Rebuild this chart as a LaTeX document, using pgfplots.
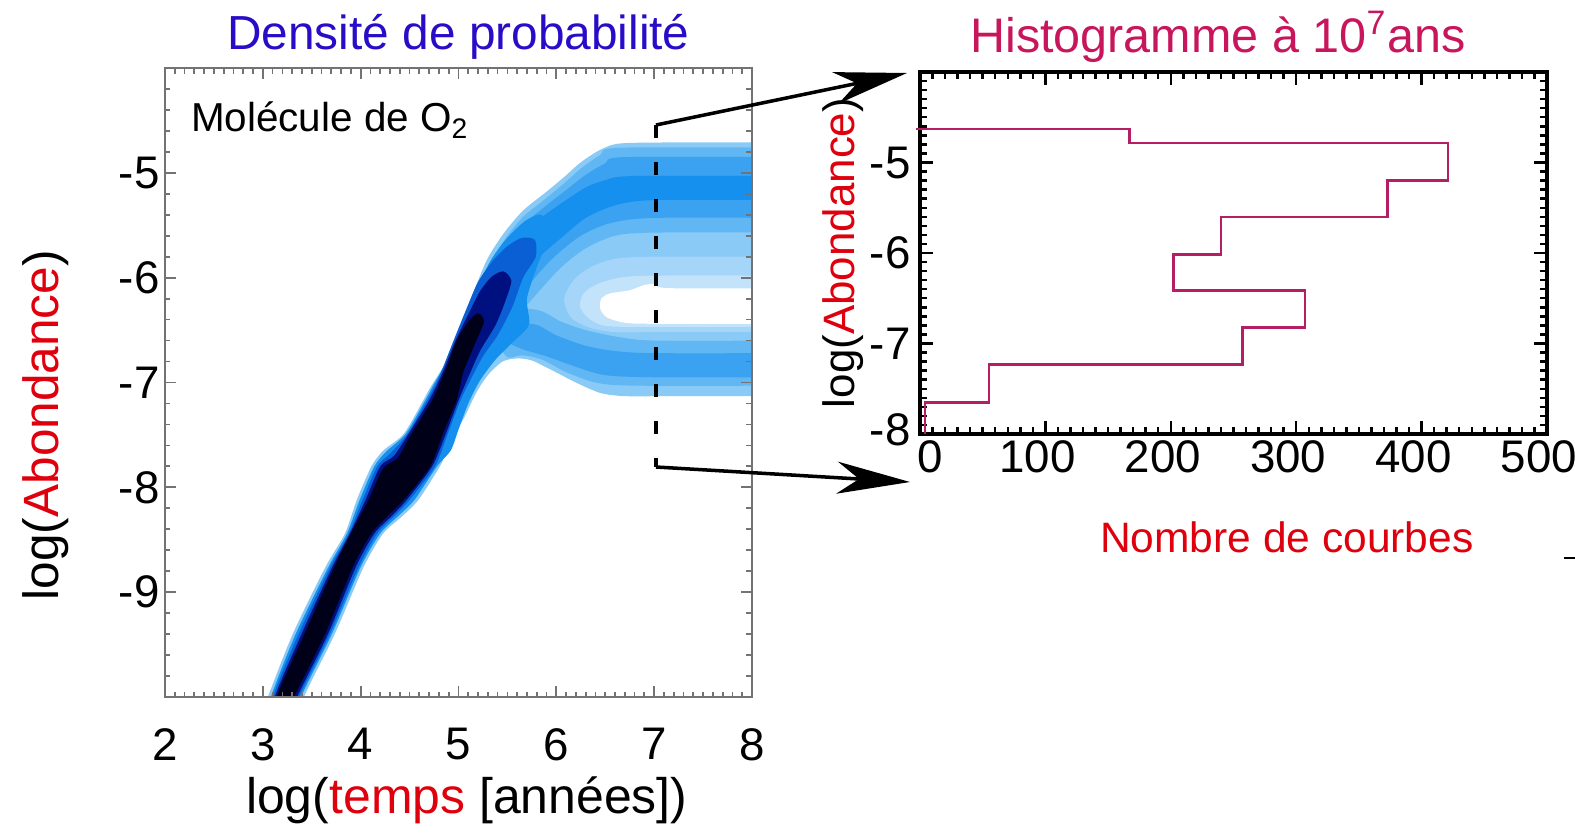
\documentclass[border=0pt]{standalone}
\usepackage{fontspec}
\setmainfont{Liberation Sans}
\usepackage{pgfplots}
\pgfplotsset{compat=1.18}
\usetikzlibrary{arrows.meta}
\definecolor{tblue}{RGB}{40,12,200}
\definecolor{tpink}{RGB}{200,22,92}
\definecolor{lred}{RGB}{222,0,12}
\definecolor{histc}{RGB}{180,30,100}
\definecolor{cA}{RGB}{138,202,246}
\definecolor{cB}{RGB}{96,183,243}
\definecolor{cC}{RGB}{58,162,240}
\definecolor{cD}{RGB}{21,144,238}
\definecolor{cL}{RGB}{165,213,248}
\definecolor{cM}{RGB}{194,227,250}
\definecolor{cE}{RGB}{10,95,212}
\definecolor{cN}{RGB}{0,16,128}
\definecolor{cK}{RGB}{0,0,24}
\pgfplotsset{band/.style={draw=none, smooth, tension=0.45, forget plot}}
\begin{document}
\begin{tikzpicture}
\useasboundingbox (0,0) rectangle (157.5mm,83.6mm);
% ---------------- left: density map ----------------
\begin{axis}[
  at={(16.5mm,13.9mm)}, anchor=south west,
  scale only axis, width=58.7mm, height=62.9mm,
  xmin=2, xmax=8, ymin=-10, ymax=-4,
  xtick={2,...,8}, ytick={-10,...,-4},
  yticklabels={,-9,-8,-7,-6,-5,},
  minor x tick num=9, minor y tick num=4,
  tick align=inside,
  major tick length=1.1mm, minor tick length=0.55mm,
  axis line style={draw=black!55, line width=0.6pt},
  tick style={black!55, line width=0.5pt},
  tick label style={font=\fontsize{13}{15}\selectfont},
  /pgf/number format/assume math mode=true,
  xticklabel style={yshift=-1.9mm},
  yticklabel style={xshift=0.7mm},
  axis on top,
  every axis title shift=0pt,
  title={Densité de probabilité},
  title style={at={(rel axis cs:0.5,1.049)}, anchor=center, text=tblue, font=\fontsize{13.6}{16}\selectfont},
  xlabel={log(\textcolor{lred}{temps} [années])},
  xlabel style={at={(rel axis cs:0.514,-0.164)}, anchor=center, font=\fontsize{14.2}{17}\selectfont},
  ylabel={log(\textcolor{lred}{Abondance})},
  ylabel style={at={(rel axis cs:-0.204,0.432)}, anchor=center, font=\fontsize{14.1}{17}\selectfont},
]
% outer envelope
\addplot[band, fill=cA] coordinates {
 (2.95,-10.3) (3.06,-9.98) (3.31,-9.39) (3.64,-8.76) (3.84,-8.44) (3.96,-8.12) (4.11,-7.80) (4.23,-7.65)
 (4.44,-7.49) (4.64,-7.17) (4.71,-7.05) (4.88,-6.79) (5.02,-6.47) (5.15,-6.15) (5.29,-5.83) (5.46,-5.58)
 (5.66,-5.36) (5.90,-5.18) (6.08,-5.04) (6.25,-4.90) (6.45,-4.78) (6.65,-4.72) (7.2,-4.71) (8.5,-4.71)
 (9.5,-4.71) (9.5,-7.13) (8.5,-7.13) (7.2,-7.13) (6.7,-7.13) (6.45,-7.10) (6.2,-7.00) (5.95,-6.88) (5.75,-6.79) (5.6,-6.77)
 (5.45,-6.80) (5.3,-6.93) (5.18,-7.10) (5.05,-7.35) (4.95,-7.49) (4.88,-7.65) (4.81,-7.80) (4.59,-8.12)
 (4.42,-8.28) (4.23,-8.44) (4.03,-8.76) (3.74,-9.39) (3.43,-9.98) (3.32,-10.3)};
% upper branch
\addplot[band, fill=cB] coordinates {
 (9.5,-4.76) (8.5,-4.76) (6.65,-4.76) (6.45,-4.83) (6.25,-4.96) (6.08,-5.10) (5.9,-5.24) (5.66,-5.42) (5.47,-5.64)
 (5.32,-5.90) (5.30,-6.20) (5.45,-6.35) (5.65,-6.30) (5.85,-6.10) (6.05,-5.90) (6.3,-5.72) (6.6,-5.60)
 (7.0,-5.57) (8.5,-5.57) (9.5,-5.57)};
\addplot[band, fill=cC] coordinates {
 (9.5,-4.85) (8.5,-4.85) (6.7,-4.85) (6.5,-4.91) (6.3,-5.02) (6.12,-5.15) (5.9,-5.31) (5.68,-5.48) (5.5,-5.68)
 (5.38,-5.95) (5.42,-6.20) (5.6,-6.20) (5.78,-6.00) (5.98,-5.80) (6.25,-5.60) (6.55,-5.48) (7.0,-5.43)
 (8.5,-5.43) (9.5,-5.43)};
\addplot[band, fill=cD] coordinates {
 (9.5,-5.03) (8.5,-5.03) (6.8,-5.03) (6.5,-5.07) (6.3,-5.14) (6.1,-5.26) (5.9,-5.39) (5.7,-5.54) (5.55,-5.72)
 (5.5,-5.90) (5.62,-5.97) (5.8,-5.82) (6.05,-5.62) (6.3,-5.43) (6.6,-5.31) (7.0,-5.26) (8.5,-5.26) (9.5,-5.26)};
% lower branch
\addplot[band, fill=cB] coordinates {
 (9.5,-6.60) (8.5,-6.60) (7.0,-6.60) (6.6,-6.56) (6.3,-6.50) (6.05,-6.42) (5.85,-6.32) (5.65,-6.30) (5.5,-6.42)
 (5.42,-6.62) (5.5,-6.76) (5.65,-6.74) (5.85,-6.78) (6.1,-6.90) (6.4,-7.00) (6.8,-7.03) (8.5,-7.03) (9.5,-7.03)};
\addplot[band, fill=cC] coordinates {
 (9.5,-6.72) (8.5,-6.72) (7.0,-6.72) (6.6,-6.70) (6.3,-6.65) (6.0,-6.55) (5.8,-6.45) (5.6,-6.45) (5.5,-6.60)
 (5.65,-6.68) (5.9,-6.75) (6.2,-6.85) (6.5,-6.93) (7.0,-6.95) (8.5,-6.95) (9.5,-6.95)};
% light zone and hole
\addplot[band, fill=cL] coordinates {
 (9.5,-5.80) (8.5,-5.80) (7.0,-5.80) (6.6,-5.82) (6.35,-5.90) (6.18,-6.02) (6.08,-6.20) (6.15,-6.38) (6.35,-6.48)
 (6.6,-6.52) (7.0,-6.52) (8.5,-6.52) (9.5,-6.52)};
\addplot[band, fill=cM] coordinates {
 (9.5,-5.98) (8.5,-5.98) (7.0,-5.98) (6.65,-6.00) (6.42,-6.06) (6.28,-6.15) (6.24,-6.27) (6.32,-6.38) (6.5,-6.46)
 (7.0,-6.47) (8.5,-6.47) (9.5,-6.47)};
\addplot[band, fill=white] coordinates {
 (9.5,-6.10) (8.5,-6.10) (7.15,-6.10) (7.02,-6.06) (6.9,-6.07) (6.75,-6.12) (6.55,-6.15) (6.46,-6.20) (6.45,-6.30)
 (6.52,-6.38) (6.7,-6.43) (7.0,-6.44) (8.5,-6.44) (9.5,-6.44)};
% main track
\addplot[band, fill=cD] coordinates {
 (3.0,-10.3) (3.09,-9.98) (3.34,-9.39) (3.67,-8.76) (3.86,-8.44) (3.99,-8.12) (4.14,-7.80) (4.26,-7.66)
 (4.46,-7.49) (4.66,-7.17) (4.74,-7.03) (4.91,-6.75) (5.05,-6.44) (5.18,-6.13) (5.32,-5.85) (5.48,-5.64)
 (5.68,-5.46) (5.85,-5.40) (5.92,-5.60) (5.8,-5.90) (5.7,-6.20) (5.72,-6.45) (5.55,-6.62) (5.38,-6.78)
 (5.22,-6.98) (5.1,-7.20) (5.0,-7.45) (4.92,-7.65) (4.78,-7.80) (4.55,-8.12) (4.4,-8.26) (4.2,-8.44)
 (4.0,-8.76) (3.71,-9.39) (3.40,-9.98) (3.28,-10.3)};
\addplot[band, fill=cE] coordinates {
 (3.04,-10.3) (3.11,-9.98) (3.37,-9.39) (3.69,-8.76) (3.88,-8.44) (4.02,-8.12) (4.17,-7.80) (4.3,-7.68)
 (4.48,-7.49) (4.68,-7.17) (4.8,-6.95) (4.95,-6.60) (5.08,-6.30) (5.2,-6.04) (5.35,-5.84) (5.5,-5.70)
 (5.65,-5.62) (5.78,-5.64) (5.79,-5.80) (5.66,-6.00) (5.55,-6.28) (5.4,-6.55) (5.25,-6.75) (5.12,-6.98) (5.02,-7.17)
 (4.89,-7.49) (4.76,-7.80) (4.5,-8.12) (4.36,-8.26) (4.17,-8.44) (3.98,-8.76) (3.69,-9.39) (3.38,-9.98)
 (3.25,-10.3)};
\addplot[band, fill=cN] coordinates {
 (3.07,-10.3) (3.13,-9.98) (3.40,-9.39) (3.71,-8.76) (3.89,-8.44) (4.05,-8.12) (4.20,-7.80) (4.34,-7.70)
 (4.49,-7.49) (4.70,-7.17) (4.84,-6.90) (4.97,-6.60) (5.1,-6.35) (5.22,-6.13) (5.34,-5.99) (5.46,-5.94)
 (5.54,-6.03) (5.48,-6.22) (5.38,-6.45) (5.22,-6.70) (5.1,-6.95) (5.0,-7.17) (4.87,-7.49) (4.73,-7.80)
 (4.47,-8.12) (4.32,-8.27) (4.14,-8.44) (3.95,-8.76) (3.67,-9.39) (3.36,-9.98) (3.22,-10.3)};
\addplot[band, fill=cK] coordinates {
 (3.10,-10.3) (3.15,-9.98) (3.43,-9.39) (3.73,-8.76) (3.90,-8.44) (4.08,-8.12) (4.23,-7.82) (4.38,-7.72)
 (4.50,-7.52) (4.73,-7.17) (4.88,-6.85) (4.98,-6.60) (5.1,-6.42) (5.2,-6.34) (5.26,-6.42) (5.16,-6.65)
 (5.05,-6.90) (4.98,-7.17) (4.84,-7.49) (4.71,-7.80) (4.44,-8.12) (4.28,-8.27) (4.11,-8.44) (3.92,-8.76)
 (3.64,-9.39) (3.33,-9.98) (3.19,-10.3)};
\node[anchor=base west, inner sep=0pt, font=\fontsize{11.5}{13}\selectfont] at (axis cs:2.26,-4.61) {Molécule de O\textsubscript{2}};
\end{axis}
% ---------------- right: histogram ----------------
\begin{axis}[
  at={(92mm,40.2mm)}, anchor=south west,
  scale only axis, width=62.7mm, height=36.2mm,
  xmin=0, xmax=500, ymin=-8, ymax=-4,
  xtick={0,100,...,500}, ytick={-8,...,-4},
  xticklabels={\hspace*{3.6mm}0,100,200,300,400,500},
  yticklabels={\raisebox{0.9mm}{-8},-7,-6,-5,},
  minor x tick num=9, minor y tick num=9,
  tick align=inside,
  major tick length=1.3mm, minor tick length=0.7mm,
  axis line style={line width=1pt},
  tick style={black, line width=0.7pt},
  tick label style={font=\fontsize{13}{15}\selectfont},
  xticklabel style={yshift=0.6mm, xshift=-0.8mm},
  yticklabel style={xshift=0.3mm},
  clip=false,
  every axis title shift=0pt,
  title={Histogramme à 10\textsuperscript{7}ans},
  title style={at={(rel axis cs:0.475,1.097)}, anchor=center, text=tpink, font=\fontsize{13.8}{16}\selectfont},
  xlabel={Nombre de courbes},
  xlabel style={at={(rel axis cs:0.585,-0.285)}, anchor=center, text=lred, font=\fontsize{12.1}{14}\selectfont},
  ylabel={log(\textcolor{lred}{Abondance})},
  ylabel style={at={(rel axis cs:-0.123,0.5)}, anchor=center, font=\fontsize{12.5}{15}\selectfont},
]
\addplot[color=histc, line width=0.75pt, sharp plot] coordinates {
 (-3,-4.628) (167,-4.628) (167,-4.784) (421,-4.784) (421,-5.200) (373,-5.200) (373,-5.604) (240,-5.604)
 (240,-6.015) (202,-6.015) (202,-6.414) (307,-6.414) (307,-6.824) (257,-6.824) (257,-7.235) (55,-7.235)
 (55,-7.649) (4,-7.649) (4,-8.0)};
\end{axis}
% ---------------- annotation ----------------
\draw[line width=1.4pt, dash pattern=on 1.3mm off 2.4mm] (65.6mm,71.1mm) -- (65.6mm,36.9mm);
\draw[line width=1pt, -{Stealth[length=7.3mm,width=3.2mm,inset=2.2mm]}] (65.6mm,71.1mm) -- (90.7mm,76.3mm);
\draw[line width=1pt, -{Stealth[length=7.3mm,width=3.2mm,inset=2.2mm]}] (65.6mm,36.9mm) -- (91.0mm,35.4mm);
\draw[line width=0.8pt] (156.4mm,27.8mm) -- (157.5mm,27.8mm);
\end{tikzpicture}
\end{document}
